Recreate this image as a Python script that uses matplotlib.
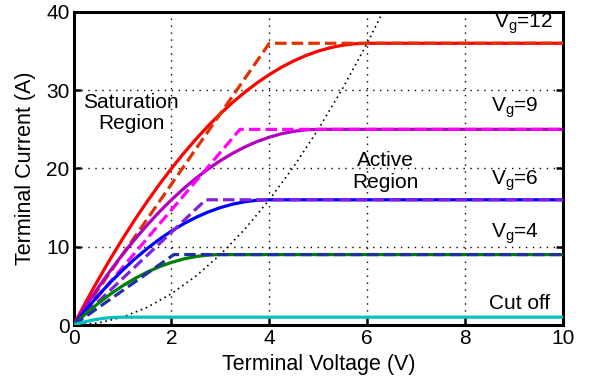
import matplotlib
matplotlib.use("Agg")
import matplotlib.pyplot as plt

plt.rcParams['font.family'] = ['Liberation Sans', 'DejaVu Sans']
plt.rcParams['mathtext.fontset'] = 'custom'
plt.rcParams['mathtext.rm'] = 'Liberation Sans'
plt.rcParams['mathtext.it'] = 'Liberation Sans'

# Solid curves
x12 = [0, 0.25, 0.5, 0.75, 1, 1.25, 1.5, 1.75, 2, 2.25, 2.5, 2.75, 3, 3.25, 3.5, 3.75,
       4, 4.25, 4.5, 4.75, 5, 5.25, 5.5, 5.75, 6, 10]
y12 = [0, 2.94, 5.75, 8.44, 11, 13.44, 15.75, 17.94, 20, 21.94, 23.75, 25.44, 27, 28.44,
       29.75, 30.94, 32, 32.94, 33.75, 34.44, 35, 35.44, 35.75, 35.94, 36, 36]
x9 = [0, 0.25, 0.5, 0.75, 1, 1.25, 1.5, 1.75, 2, 2.25, 2.5, 2.75, 3, 3.25, 3.5, 3.75,
      4, 4.25, 4.5, 4.75, 5, 10]
y9 = [0, 2.44, 4.75, 6.94, 9, 10.94, 12.75, 14.44, 16, 17.44, 18.75, 19.94, 21, 21.94,
      22.75, 23.44, 24, 24.44, 24.75, 24.94, 25, 25]
x6 = [0, 0.25, 0.5, 0.75, 1, 1.25, 1.5, 1.75, 2, 2.25, 2.5, 2.75, 3, 3.25, 3.5, 3.75, 4, 10]
y6 = [0, 1.94, 3.75, 5.44, 7, 8.44, 9.75, 10.94, 12, 12.94, 13.75, 14.44, 15, 15.44,
      15.75, 15.94, 16, 16]
x4 = [0, 0.25, 0.5, 0.75, 1, 1.25, 1.5, 1.75, 2, 2.25, 2.5, 2.75, 3, 10]
y4 = [0, 1.44, 2.75, 3.94, 5, 5.94, 6.75, 7.44, 8, 8.44, 8.75, 8.94, 9, 9]
xc = [0, 0.125, 0.25, 0.375, 0.5, 0.625, 0.75, 0.875, 1, 10]
yc = [0, 0.23, 0.44, 0.61, 0.75, 0.86, 0.94, 0.98, 1, 1]

# Dashed piecewise-linear approximations
xd12 = [0, 4, 10]
yd12 = [0, 36, 36]
xd9 = [0, 3.4, 10]
yd9 = [0, 25, 25]
xd6 = [0, 2.7, 10]
yd6 = [0, 16, 16]
xd4 = [0, 2.05, 10]
yd4 = [0, 9, 9]

# Boundary between regions (dotted)
xb = [0, 0.5, 1, 1.5, 2, 2.5, 3, 3.5, 4, 4.5, 5, 5.5, 6, 6.32]
yb = [0, 0.25, 1, 2.25, 4, 6.25, 9, 12.25, 16, 20.25, 25, 30.25, 36, 40]

fig = plt.figure(figsize=(5.91, 3.86), dpi=100)
ax = fig.add_axes([0.1245, 0.158, 0.828, 0.811])

lw = 2.3
dash = (0, (3.6, 1.6))
ax.plot(xb, yb, color='black', lw=1.2, linestyle=(0, (1, 2.2)), zorder=2)
ax.plot(x12, y12, color='#ff0000', lw=lw, zorder=3)
ax.plot(xd12, yd12, color='#dd3300', lw=lw, linestyle=dash, zorder=3)
ax.plot(x9, y9, color='#b000c0', lw=lw, zorder=3)
ax.plot(xd9, yd9, color='#ff00ff', lw=lw, linestyle=dash, zorder=3)
ax.plot(x6, y6, color='#0000ff', lw=lw, zorder=3)
ax.plot(xd6, yd6, color='#8020e0', lw=lw, linestyle=dash, zorder=3)
ax.plot(x4, y4, color='#008000', lw=lw, zorder=3)
ax.plot(xd4, yd4, color='#2030a0', lw=lw, linestyle=dash, zorder=3)
ax.plot(xc, yc, color='#00c0c0', lw=lw, zorder=3)

ax.set_xlim(0, 10)
ax.set_ylim(0, 40)
ax.set_xticks([0, 2, 4, 6, 8, 10])
ax.set_yticks([0, 10, 20, 30, 40])
ax.grid(True, color='black', linestyle=(0, (1, 4)), lw=1.0)
ax.tick_params(direction='in', length=5, width=1.8, labelsize=15, pad=3,
               top=False, right=True)
for s in ax.spines.values():
    s.set_linewidth(2.2)

ax.set_xlabel('Terminal Voltage (V)', fontsize=15.5, labelpad=4)
ax.set_ylabel('Terminal Current (A)', fontsize=15.5, labelpad=7)

fs = 15
ax.text(1.18, 27.1, 'Saturation\nRegion', ha='center', va='center', fontsize=fs, linespacing=1.15)
ax.text(6.37, 19.6, 'Active\nRegion', ha='center', va='center', fontsize=fs, linespacing=1.15)
ax.text(8.6, 38.0, r'$\mathregular{V_g}$=12', ha='left', va='baseline', fontsize=fs)
ax.text(8.53, 27.2, r'$\mathregular{V_g}$=9', ha='left', va='baseline', fontsize=fs)
ax.text(8.53, 17.9, r'$\mathregular{V_g}$=6', ha='left', va='baseline', fontsize=fs)
ax.text(8.53, 11.1, r'$\mathregular{V_g}$=4', ha='left', va='baseline', fontsize=fs)
ax.text(8.49, 2.1, 'Cut off', ha='left', va='baseline', fontsize=fs)

fig.savefig('out.png', dpi=100)
